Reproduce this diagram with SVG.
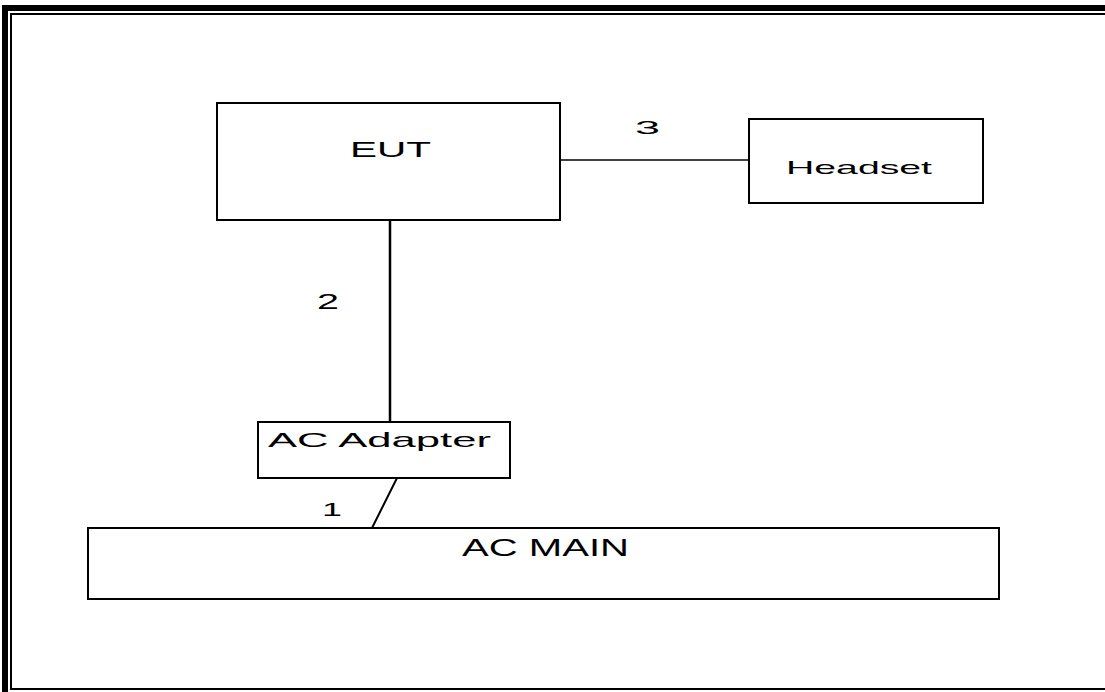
<svg xmlns="http://www.w3.org/2000/svg" width="1105" height="692" viewBox="0 0 1105 692">
<style>
.box{fill:#fff;stroke:#000;stroke-width:2}
.lbl{font-family:"Liberation Sans",Arial,sans-serif;fill:#000}
.conn{stroke:#000;fill:none}
</style>
<rect width="1105" height="692" fill="#fff"/>
<g id="frame">
<rect x="5" y="8" width="1200" height="800" fill="none" stroke="#000" stroke-width="6"/>
<rect x="11" y="14" width="1200" height="675" fill="none" stroke="#000" stroke-width="2"/>
</g>
<g id="connectors">
<line class="conn" x1="390" y1="220" x2="390" y2="422" stroke-width="2.5"/>
<line class="conn" x1="560" y1="160" x2="749" y2="160" stroke-width="1.5"/>
<line class="conn" x1="397" y1="478" x2="372" y2="528" stroke-width="2"/>
<text class="lbl" x="635" y="134" font-size="18" textLength="25" lengthAdjust="spacingAndGlyphs">3</text>
<text class="lbl" x="317" y="309" font-size="22" textLength="22" lengthAdjust="spacingAndGlyphs">2</text>
<text class="lbl" x="322" y="516" font-size="18" textLength="20" lengthAdjust="spacingAndGlyphs">1</text>
</g>
<g id="eut">
<rect class="box" x="217" y="103" width="343" height="117"/>
<text class="lbl" x="350" y="157" font-size="22" textLength="81" lengthAdjust="spacingAndGlyphs">EUT</text>
</g>
<g id="headset">
<rect class="box" x="749" y="119" width="234" height="84"/>
<text class="lbl" x="786" y="174" font-size="19" textLength="146" lengthAdjust="spacingAndGlyphs">Headset</text>
</g>
<g id="ac-adapter">
<rect class="box" x="258" y="422" width="252" height="56"/>
<text class="lbl" x="268" y="447" font-size="21" textLength="223" lengthAdjust="spacingAndGlyphs">AC Adapter</text>
</g>
<g id="ac-main">
<rect class="box" x="88" y="528" width="911" height="71"/>
<text class="lbl" x="462" y="556" font-size="23" textLength="167" lengthAdjust="spacingAndGlyphs">AC MAIN</text>
</g>
</svg>
